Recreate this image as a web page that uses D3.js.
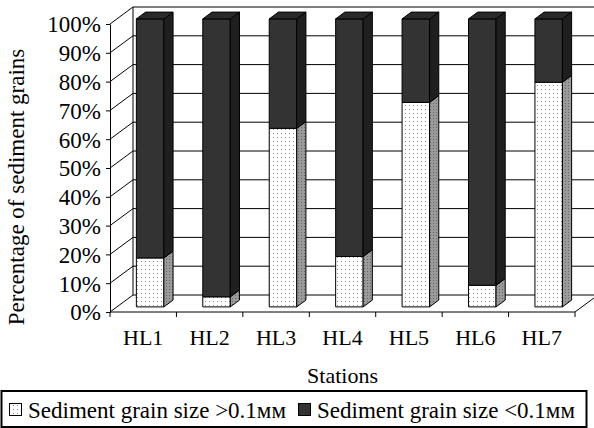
<!DOCTYPE html>
<html>

<head>
    <meta charset="utf-8">
    <style>
        body {
            margin: 0;
            background: white;
        }

        svg {
            display: block;
            font-family: 'Liberation Serif', 'Times New Roman', serif;
        }
    </style>
</head>

<body>
    <svg width="594" height="428"></svg>

    <script src="https://d3js.org/d3.v7.min.js"></script>
    <script>
        // values (percent of grains per station)
        let stations = ["HL1", "HL2", "HL3", "HL4", "HL5", "HL6", "HL7"];
        let coarse = [17, 3.5, 62, 17.5, 71, 7.5, 78];       // > 0.1 mm
        let fine = [83, 96.5, 38, 82.5, 29, 92.5, 22];       // < 0.1 mm
        let yTicks = [0, 10, 20, 30, 40, 50, 60, 70, 80, 90, 100];
        let seriesNames = ["Sediment grain size >0.1мм", "Sediment grain size <0.1мм"];

        let rows = stations.map((s, i) => ({ station: s, coarse: coarse[i], fine: fine[i] }));

        let svg = d3.select("svg");

        // front plane of the 3d box
        let plotL = 110, plotR = 575, plotB = 312, plotT = 24;
        // depth of the box (front -> back wall)
        let dx = 23, dy = -17;

        let x = d3.scaleBand()
            .domain(stations)
            .range([plotL, plotR])
            .paddingInner(0.586)
            .paddingOuter(0.293);

        let y = d3.scaleLinear()
            .domain([0, 100])
            .range([plotB, plotT]);

        // dotted fills
        let defs = svg.append("defs");
        let p1 = defs.append("pattern")
            .attr("id", "dots")
            .attr("patternUnits", "userSpaceOnUse")
            .attr("width", 4).attr("height", 4);
        p1.append("rect").attr("width", 4).attr("height", 4).attr("fill", "#fff");
        p1.append("rect").attr("x", 1).attr("y", 1).attr("width", 1).attr("height", 1).attr("fill", "#8a8a8a");

        let p2 = defs.append("pattern")
            .attr("id", "dotsSide")
            .attr("patternUnits", "userSpaceOnUse")
            .attr("width", 3).attr("height", 3);
        p2.append("rect").attr("width", 3).attr("height", 3).attr("fill", "#9a9a9a");
        p2.append("rect").attr("x", 1).attr("y", 1).attr("width", 1).attr("height", 1).attr("fill", "#666");

        let grid = svg.append("g")
            .attr("stroke", "#000")
            .attr("stroke-width", 1)
            .attr("fill", "none");

        // back wall gridlines
        grid.selectAll(".back")
            .data(yTicks)
            .join("line")
            .attr("x1", plotL + dx).attr("x2", plotR + dx + 30)
            .attr("y1", d => y(d) + dy).attr("y2", d => y(d) + dy);

        // side wall diagonals
        grid.selectAll(".diag")
            .data(yTicks)
            .join("line")
            .attr("x1", plotL).attr("x2", plotL + dx)
            .attr("y1", d => y(d)).attr("y2", d => y(d) + dy);

        // back wall left edge
        grid.append("line")
            .attr("x1", plotL + dx).attr("x2", plotL + dx)
            .attr("y1", y(100) + dy).attr("y2", y(0) + dy);

        // floor right edge
        grid.append("line")
            .attr("x1", plotR).attr("x2", plotR + dx)
            .attr("y1", plotB).attr("y2", plotB + dy);

        // bars sit in the middle of the depth
        let ox = dx * 0.3, oy = dy * 0.3;
        let bx = dx * 0.4, by = dy * 0.4;
        let bw = x.bandwidth();

        let stack = d3.stack().keys(["coarse", "fine"])(rows);
        let fronts = ["url(#dots)", "#333"];
        let sides = ["url(#dotsSide)", "#1f1f1f"];

        let bars = svg.append("g")
            .attr("stroke", "#000")
            .attr("stroke-width", 1)
            .attr("stroke-linejoin", "round");

        rows.forEach((r, i) => {
            let g = bars.append("g");
            let x0 = x(r.station) + ox;
            stack.forEach((layer, k) => {
                let y0 = y(layer[i][0]) + oy;
                let y1 = y(layer[i][1]) + oy;
                g.append("rect")
                    .attr("x", x0).attr("y", y1)
                    .attr("width", bw).attr("height", y0 - y1)
                    .attr("fill", fronts[k]);
                g.append("path")
                    .attr("d", d3.line()([
                        [x0 + bw, y0], [x0 + bw + bx, y0 + by],
                        [x0 + bw + bx, y1 + by], [x0 + bw, y1]
                    ]) + "Z")
                    .attr("fill", sides[k]);
            });
            // top cap
            let yt = y(100) + oy;
            g.append("path")
                .attr("d", d3.line()([
                    [x0, yt], [x0 + bx, yt + by],
                    [x0 + bw + bx, yt + by], [x0 + bw, yt]
                ]) + "Z")
                .attr("fill", "#2a2a2a");
        });

        // y axis
        let yAxis = svg.append("g")
            .attr("transform", "translate(" + plotL + ",0)")
            .call(d3.axisLeft(y)
                .tickValues(yTicks)
                .tickSize(4)
                .tickSizeOuter(0)
                .tickPadding(5)
                .tickFormat(d => d + "%"));
        yAxis.selectAll("path, line").attr("stroke", "#000");
        yAxis.selectAll("text")
            .attr("font-family", "'Liberation Serif', 'Times New Roman', serif")
            .attr("font-size", 23)
            .attr("fill", "#000")
            .attr("dy", "0.34em");

        // x axis: floor front edge with ticks between stations
        svg.append("line")
            .attr("x1", plotL).attr("x2", plotR)
            .attr("y1", plotB).attr("y2", plotB)
            .attr("stroke", "#000");

        let bounds = d3.range(stations.length + 1).map(i => plotL + i * x.step());
        svg.selectAll(".xtick")
            .data(bounds)
            .join("line")
            .attr("x1", d => d).attr("x2", d => d)
            .attr("y1", plotB).attr("y2", plotB + 5)
            .attr("stroke", "#000");

        svg.selectAll(".xlabel")
            .data(stations)
            .join("text")
            .attr("x", d => x(d) + bw / 2)
            .attr("y", 345)
            .attr("text-anchor", "middle")
            .attr("font-size", 22)
            .text(d => d);

        // axis titles
        svg.append("text")
            .attr("x", (plotL + plotR) / 2)
            .attr("y", 383)
            .attr("text-anchor", "middle")
            .attr("font-size", 22)
            .text("Stations");

        svg.append("text")
            .attr("transform", "translate(24,187) rotate(-90)")
            .attr("text-anchor", "middle")
            .attr("font-size", 23)
            .text("Percentage of sediment grains");

        // legend
        let legend = svg.append("g");
        legend.append("rect")
            .attr("x", 1.5).attr("y", 391)
            .attr("width", 585).attr("height", 36)
            .attr("fill", "#fff")
            .attr("stroke", "#000")
            .attr("stroke-width", 2);

        let legendX = [9, 298];
        legend.selectAll(".sw")
            .data(seriesNames)
            .join("rect")
            .attr("x", (d, i) => legendX[i] + 0.5)
            .attr("y", 403.5)
            .attr("width", 12).attr("height", 12)
            .attr("fill", (d, i) => fronts[i])
            .attr("stroke", "#000");

        legend.selectAll(".lt")
            .data(seriesNames)
            .join("text")
            .attr("x", (d, i) => legendX[i] + 19)
            .attr("y", 418)
            .attr("font-size", 23)
            .text(d => d);
    </script>
</body>

</html>
